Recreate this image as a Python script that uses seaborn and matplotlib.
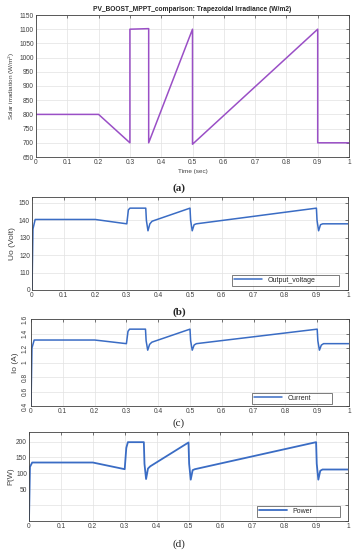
"""
plot.py
PV boost MPPT comparison under trapezoidal irradiance - four stacked panels.
"""

import matplotlib
matplotlib.use("Agg")
import matplotlib.pyplot as plt
import pandas as pd
import seaborn as sns

# ---------------------------------------------------------------------------
# Data
# ---------------------------------------------------------------------------
irr_t = [0, 0.2, 0.3, 0.3, 0.36, 0.36, 0.5, 0.5, 0.9, 0.9, 1.0]
irr = [800, 800, 700, 1100, 1102, 700, 1100, 695, 1100, 700, 700]

sim_t = [0, 0.003, 0.01, 0.2, 0.3, 0.305, 0.31, 0.36, 0.362, 0.367, 0.373,
         0.38, 0.5, 0.502, 0.507, 0.513, 0.52, 0.9, 0.902, 0.907, 0.913,
         0.92, 1.0]
voltage = [100, 135, 140.5, 140.5, 138, 146, 147, 147, 140, 134, 138,
           139.5, 147, 140, 134, 137.5, 138, 147, 140, 134, 137.5,
           138, 138]
current = [0.4, 1.2, 1.31, 1.31, 1.26, 1.43, 1.46, 1.46, 1.3, 1.17, 1.25,
           1.28, 1.46, 1.3, 1.17, 1.24, 1.26, 1.46, 1.3, 1.17, 1.24,
           1.26, 1.26]
power = [-50, 120, 134, 134, 113, 180, 198, 198, 130, 82, 115,
         122, 197, 130, 80, 110, 113, 198, 130, 80, 108,
         112, 112]

x_ticks = [0, 0.1, 0.2, 0.3, 0.4, 0.5, 0.6, 0.7, 0.8, 0.9, 1]
x_labels = ["0", "0.1", "0.2", "0.3", "0.4", "0.5", "0.6", "0.7", "0.8", "0.9", "1"]

irr_ticks = [650, 700, 750, 800, 850, 900, 950, 1000, 1050, 1100, 1150]
v_ticks = [100, 110, 120, 130, 140, 150]
v_labels = ["0", "110", "120", "130", "140", "150"]
i_ticks = [0.4, 0.6, 0.8, 1.0, 1.2, 1.4, 1.6]
i_labels = ["0.4", "0.6", "0.8", "1", "1.2", "1.4", "1.6"]
p_ticks = [-50, 0, 50, 100, 150, 200]
p_labels = ["", "", "50", "100", "150", "200"]

PURPLE = "#9a4fc6"
BLUE = "#3a6cc4"

# ---------------------------------------------------------------------------
# Style
# ---------------------------------------------------------------------------
sns.set_theme(style="whitegrid")
plt.rcParams["font.family"] = ["Liberation Sans", "DejaVu Sans"]
plt.rcParams.update({
    "axes.edgecolor": "#404040",
    "axes.linewidth": 0.6,
    "grid.color": "#e2e2e2",
    "grid.linewidth": 0.5,
    "xtick.direction": "in",
    "ytick.direction": "in",
    "xtick.major.size": 2,
    "ytick.major.size": 2,
    "xtick.major.width": 0.5,
    "ytick.major.width": 0.5,
    "xtick.color": "#404040",
    "ytick.color": "#404040",
    "xtick.labelsize": 4.8,
    "ytick.labelsize": 4.8,
})

fig = plt.figure(figsize=(3.58, 5.5), dpi=100)
W, H = 358, 550


def add_axes(left, top, right, bottom):
    return fig.add_axes([left / W, 1 - bottom / H, (right - left) / W, (bottom - top) / H])


def style_axes(ax):
    ax.set_xlim(0, 1)
    ax.set_xticks(x_ticks)
    ax.set_xticklabels(x_labels)
    ax.tick_params(axis="both", pad=1.5, top=True, right=True)
    ax.grid(True)
    for s in ax.spines.values():
        s.set_visible(True)


def add_legend(ax, x0, width, y0, height):
    leg = ax.legend(loc="lower left", bbox_to_anchor=(x0, y0, width, height),
                    mode="expand", fontsize=5, frameon=True, fancybox=False,
                    borderpad=0.3, handlelength=4, handletextpad=0.8,
                    borderaxespad=0)
    leg.get_frame().set_edgecolor("#404040")
    leg.get_frame().set_linewidth(0.6)


# ---------------------------------------------------------------------------
# (a) Irradiance
# ---------------------------------------------------------------------------
ax_a = add_axes(36, 15, 349, 157)
df_a = pd.DataFrame({"t": irr_t, "G": irr})
sns.lineplot(data=df_a, x="t", y="G", ax=ax_a, color=PURPLE, lw=1.1,
             estimator=None, sort=False)
style_axes(ax_a)
ax_a.set_ylim(650, 1150)
ax_a.set_yticks(irr_ticks)
ax_a.set_xlabel("Time (sec)", fontsize=4.6, labelpad=2, color="#404040")
ax_a.set_ylabel("Solar irradiation (W/m$^2$)", fontsize=4.6, labelpad=2, color="#404040")
ax_a.set_title("PV_BOOST_MPPT_comparison: Trapezoidal Irradiance (W/m2)",
               fontsize=4.8, fontweight="bold", pad=3)

# ---------------------------------------------------------------------------
# (b) Output voltage
# ---------------------------------------------------------------------------
ax_b = add_axes(32, 197, 348, 290)
df_b = pd.DataFrame({"t": sim_t, "v": voltage})
sns.lineplot(data=df_b, x="t", y="v", ax=ax_b, color=BLUE, lw=1.1,
             estimator=None, sort=False, label="Output_voltage")
style_axes(ax_b)
ax_b.set_ylim(100, 153.4)
ax_b.set_yticks(v_ticks)
ax_b.set_yticklabels(v_labels)
ax_b.set_xlabel("")
ax_b.set_ylabel("Uo (Volt)", fontsize=6, labelpad=2, color="#404040")
add_legend(ax_b, (232 - 32) / 316, (339 - 232) / 316, (290 - 286) / 93, (286 - 273) / 93)

# ---------------------------------------------------------------------------
# (c) Current
# ---------------------------------------------------------------------------
ax_c = add_axes(31, 319, 349, 406)
df_c = pd.DataFrame({"t": sim_t, "i": current})
sns.lineplot(data=df_c, x="t", y="i", ax=ax_c, color=BLUE, lw=1.1,
             estimator=None, sort=False, label="Current")
style_axes(ax_c)
ax_c.set_ylim(0.4, 1.6)
ax_c.set_yticks(i_ticks)
ax_c.set_yticklabels(i_labels, rotation=90, va="center")
ax_c.set_xlabel("")
ax_c.set_ylabel("Io (A)", fontsize=6, labelpad=2, color="#404040")
add_legend(ax_c, (252 - 31) / 318, (332 - 252) / 318, (406 - 404) / 87, (404 - 393) / 87)

# ---------------------------------------------------------------------------
# (d) Power
# ---------------------------------------------------------------------------
ax_d = add_axes(29, 432, 348, 521)
df_d = pd.DataFrame({"t": sim_t, "p": power})
sns.lineplot(data=df_d, x="t", y="p", ax=ax_d, color=BLUE, lw=1.3,
             estimator=None, sort=False, label="Power")
style_axes(ax_d)
ax_d.set_ylim(-50, 230)
ax_d.set_yticks(p_ticks)
ax_d.set_yticklabels(p_labels)
ax_d.set_xlabel("")
ax_d.set_ylabel("P(W)", fontsize=5.5, labelpad=1, color="#404040")
add_legend(ax_d, (257 - 29) / 319, (340 - 257) / 319, (521 - 517) / 89, (517 - 507) / 89)

# ---------------------------------------------------------------------------
# Panel captions
# ---------------------------------------------------------------------------
for label, y in [("(a)", 188), ("(b)", 312), ("(c)", 423), ("(d)", 544)]:
    fig.text(179 / W, 1 - y / H, label, ha="center", va="center",
             fontsize=8, fontweight="bold" if label in ("(a)", "(b)") else "normal",
             family=["Liberation Serif", "DejaVu Serif"])

fig.savefig("out.png", dpi=100)
plt.close(fig)
